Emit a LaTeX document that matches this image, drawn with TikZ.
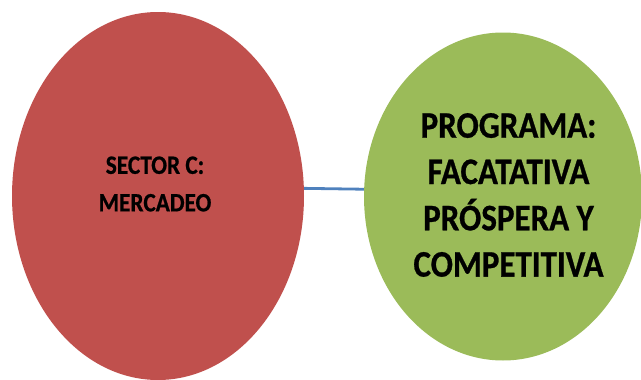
\documentclass[tikz,border=0pt]{standalone}
\usepackage{fontspec}
\usepackage{tikz}
\usetikzlibrary{shapes.geometric}
\newfontfamily\diagfont[FakeStretch=0.88, BoldFeatures={FakeBold=0.7}]{Carlito}
\definecolor{sectorred}{HTML}{C0504D}
\definecolor{programgreen}{HTML}{9BBB59}
\definecolor{linkblue}{HTML}{4F81BD}
\tikzset{
  blob/.style = {ellipse, draw = none, inner sep = 0pt},
  blobtext/.style = {align = center, inner sep = 0pt, font = \diagfont\bfseries},
  link/.style = {linkblue, line width = 2.8pt}
}

\begin{document}
\begin{tikzpicture}[x = 1pt, y = -1pt]
\useasboundingbox (0,0) rectangle (641,380);
\clip (0,0) rectangle (641,380);
\node[blob, fill = sectorred, minimum width = 292pt, minimum height = 368pt] (sector) at (158,196) {};
\node[blob, fill = programgreen, minimum width = 278pt, minimum height = 328pt] (programa) at (503,196.5) {};
\node[blobtext, font = \diagfont\bfseries\fontsize{26.5}{37.5}\selectfont] (sectortext) at (155,184) {SECTOR C:\\MERCADEO};
\node[blobtext, font = \diagfont\bfseries\fontsize{37.5}{46.3}\selectfont] (programatext) at (508.5,195) {PROGRAMA:\\FACATATIVA\\PRÓSPERA Y\\COMPETITIVA};
\draw[link] (sector.3.5) -- (programa.177.3);
\end{tikzpicture}
\end{document}
